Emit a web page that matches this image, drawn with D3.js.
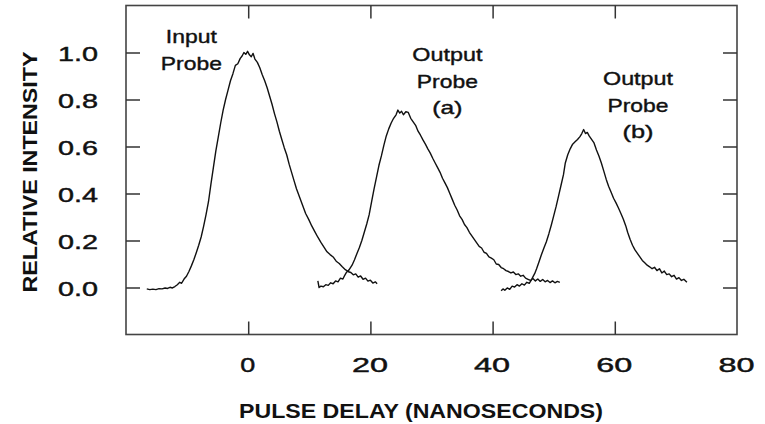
<!DOCTYPE html>
<html>
<head>
<meta charset="utf-8">
<script src="https://cdn.jsdelivr.net/npm/d3@7"></script>
<style>
  html, body { margin: 0; padding: 0; background: #fff; }
  svg { display: block; font-family: "Liberation Sans", Arial, Helvetica, sans-serif; }
</style>
</head>
<body>
<svg id="chart" width="765" height="424"></svg>
<script>
// ---- data (pulse delay in ns, relative intensity) ----
const xTickValues = [0, 20, 40, 60, 80];
const yTickValues = [0.0, 0.2, 0.4, 0.6, 0.8, 1.0];
const xLabel = "PULSE DELAY (NANOSECONDS)";
const yLabel = "RELATIVE INTENSITY";

const inputProbe = [
  [-16.6,-0.006],[-16.1,-0.009],[-15.6,-0.007],[-15.1,-0.009],[-14.6,-0.005],[-14.1,-0.006],[-13.6,-0.002],
  [-13.2,-0.004],[-12.8,0.001],[-12.4,-0.002],[-12.0,0.004],[-11.6,0.012],[-11.2,0.022],[-10.9,0.018],
  [-10.5,0.036],[-10.1,0.048],[-9.7,0.068],[-9.3,0.092],[-8.9,0.118],[-8.5,0.148],[-8.1,0.18],[-7.7,0.215],
  [-7.3,0.26],[-6.9,0.31],[-6.5,0.365],[-6.1,0.44],[-5.7,0.51],[-5.3,0.58],[-4.9,0.64],[-4.5,0.7],
  [-4.1,0.755],[-3.7,0.8],[-3.3,0.84],[-2.9,0.88],[-2.5,0.91],[-2.1,0.945],[-1.7,0.952],[-1.3,0.975],
  [-1.0,0.985],[-0.7,1.0],[-0.4,0.992],[-0.1,1.005],[0.2,0.99],[0.5,0.982],[0.8,0.996],[1.1,0.972],
  [1.5,0.958],[1.9,0.935],[2.3,0.905],[2.7,0.88],[3.1,0.85],[3.5,0.815],[3.9,0.78],[4.3,0.74],[4.7,0.705],
  [5.1,0.665],[5.5,0.63],[5.9,0.595],[6.3,0.565],[6.7,0.525],[7.1,0.49],[7.5,0.455],[7.9,0.42],[8.4,0.385],
  [8.9,0.35],[9.4,0.315],[9.9,0.29],[10.4,0.262],[10.9,0.238],[11.4,0.214],[11.9,0.192],[12.4,0.172],
  [12.9,0.152],[13.4,0.14],[13.9,0.13],[14.4,0.112],[14.9,0.102],[15.4,0.088],[15.9,0.076],[16.4,0.067],
  [16.8,0.064],[17.2,0.054],[17.6,0.058],[18.0,0.044],[18.4,0.049],[18.8,0.035],[19.2,0.04],[19.6,0.027],
  [20.0,0.031],[20.4,0.019],[20.8,0.024],[21.1,0.016]
];

const outputProbeA = [
  [11.4,0.028],[11.6,0.0],[11.9,0.006],[12.3,0.003],[12.7,0.012],[13.1,0.009],[13.5,0.02],[13.9,0.016],
  [14.3,0.028],[14.7,0.024],[15.1,0.04],[15.5,0.036],[15.8,0.052],[16.1,0.065],[16.5,0.075],[17.0,0.095],
  [17.4,0.118],[17.8,0.145],[18.2,0.17],[18.6,0.2],[19.0,0.235],[19.4,0.27],[19.8,0.31],[20.2,0.365],
  [20.6,0.42],[21.0,0.47],[21.4,0.52],[21.8,0.56],[22.2,0.605],[22.6,0.645],[23.0,0.675],[23.4,0.7],
  [23.8,0.72],[24.2,0.735],[24.5,0.755],[24.8,0.742],[25.1,0.75],[25.4,0.735],[25.8,0.748],[26.2,0.745],
  [26.6,0.72],[27.0,0.705],[27.4,0.69],[27.8,0.665],[28.2,0.648],[28.6,0.628],[29.0,0.61],[29.4,0.59],
  [29.8,0.572],[30.2,0.55],[30.6,0.53],[31.0,0.51],[31.4,0.49],[31.8,0.465],[32.2,0.445],[32.6,0.425],
  [33.0,0.4],[33.4,0.375],[33.8,0.35],[34.2,0.33],[34.6,0.305],[35.0,0.29],[35.4,0.268],[35.8,0.255],
  [36.2,0.235],[36.6,0.22],[37.0,0.205],[37.4,0.19],[37.8,0.175],[38.2,0.168],[38.6,0.15],[39.0,0.145],
  [39.4,0.13],[39.8,0.125],[40.2,0.118],[40.6,0.1],[41.0,0.098],[41.4,0.085],[41.8,0.08],[42.2,0.072],
  [42.6,0.068],[43.0,0.062],[43.4,0.066],[43.8,0.055],[44.2,0.058],[44.6,0.048],[45.0,0.052],[45.4,0.04],
  [45.8,0.035],[46.2,0.03],[46.6,0.038],[47.0,0.028],[47.4,0.036],[47.8,0.026],[48.2,0.034],[48.6,0.024],
  [49.0,0.03],[49.4,0.021],[49.8,0.028],[50.2,0.02],[50.6,0.026],[51.0,0.022]
];

const outputProbeB = [
  [41.4,-0.014],[41.7,-0.006],[42.0,-0.012],[42.4,-0.002],[42.8,-0.008],[43.2,0.006],[43.6,0.002],
  [44.0,0.012],[44.4,0.006],[44.8,0.016],[45.2,0.01],[45.6,0.022],[46.0,0.018],[46.3,0.03],[46.6,0.045],
  [46.9,0.06],[47.2,0.08],[47.6,0.11],[48.0,0.14],[48.4,0.168],[48.8,0.195],[49.2,0.228],[49.6,0.265],
  [50.0,0.305],[50.4,0.345],[50.8,0.39],[51.2,0.435],[51.6,0.48],[51.9,0.53],[52.3,0.565],[52.7,0.59],
  [53.1,0.61],[53.5,0.62],[53.9,0.63],[54.3,0.642],[54.6,0.655],[54.9,0.672],[55.2,0.655],[55.5,0.66],
  [55.8,0.645],[56.2,0.63],[56.6,0.615],[57.0,0.585],[57.4,0.56],[57.8,0.53],[58.2,0.495],[58.6,0.46],
  [59.0,0.43],[59.4,0.405],[59.8,0.38],[60.2,0.36],[60.6,0.338],[61.0,0.315],[61.4,0.29],[61.8,0.262],
  [62.1,0.235],[62.5,0.205],[62.9,0.18],[63.3,0.16],[63.7,0.145],[64.1,0.13],[64.5,0.115],[64.9,0.105],
  [65.3,0.095],[65.7,0.088],[66.1,0.08],[66.5,0.086],[66.9,0.072],[67.3,0.08],[67.7,0.062],[68.1,0.07],
  [68.5,0.055],[68.9,0.058],[69.3,0.046],[69.7,0.052],[70.1,0.036],[70.5,0.042],[70.9,0.03],[71.3,0.035],
  [71.8,0.022]
];

const series = [inputProbe, outputProbeA, outputProbeB];

// annotation labels: lines of text anchored at (x data, y data)
const annotations = [
  { lines: ["Input", "Probe"], x: -9.3, y: 1.04 },
  { lines: ["Output", "Probe", "(a)"], x: 32.6, y: 0.963 },
  { lines: ["Output", "Probe", "(b)"], x: 63.8, y: 0.86 }
];

// ---- drawing ----
const svg = d3.select("#chart");
const x = d3.scaleLinear().domain([-20, 80]).range([126, 737]);
const y = d3.scaleLinear().domain([-0.2, 1.2]).range([334.5, 5.5]);

const ink = "#111";

// frame
svg.append("rect")
  .attr("x", x(-20)).attr("y", y(1.2))
  .attr("width", x(80) - x(-20)).attr("height", y(-0.2) - y(1.2))
  .attr("fill", "none").attr("stroke", "#444").attr("stroke-width", 1.6);

const tickStyle = g => {
  g.select(".domain").remove();
  g.selectAll(".tick line").attr("stroke", "#333").attr("stroke-width", 1.5);
};

// inward ticks on all four sides
svg.append("g").attr("transform", `translate(0,${y(-0.2)})`)
  .call(d3.axisBottom(x).tickValues([0, 20, 40, 60]).tickSize(-13).tickFormat(""))
  .call(tickStyle);
svg.append("g").attr("transform", `translate(0,${y(1.2)})`)
  .call(d3.axisTop(x).tickValues([0, 20, 40, 60]).tickSize(-13).tickFormat(""))
  .call(tickStyle);
svg.append("g").attr("transform", `translate(${x(-20)},0)`)
  .call(d3.axisLeft(y).tickValues(yTickValues).tickSize(-14).tickFormat(""))
  .call(tickStyle);
svg.append("g").attr("transform", `translate(${x(80)},0)`)
  .call(d3.axisRight(y).tickValues(yTickValues).tickSize(-14).tickFormat(""))
  .call(tickStyle);

// tick labels
const xl = svg.append("g").attr("transform", `translate(0,${y(-0.2)})`)
  .call(d3.axisBottom(x).tickValues(xTickValues).tickSize(0).tickPadding(23).tickFormat(d3.format("d")));
xl.select(".domain").remove();
xl.selectAll("text")
  .attr("font-size", 21).attr("fill", ink).attr("font-family", "Liberation Sans, Arial, sans-serif")
  .attr("stroke", ink).attr("stroke-width", 0.45)
  .attr("dx", -1)
  .each(function(d) {
    const t = d3.select(this);
    if (String(d).length > 1) t.attr("textLength", 36).attr("lengthAdjust", "spacingAndGlyphs");
    else t.attr("textLength", 15).attr("lengthAdjust", "spacingAndGlyphs");
  });

const yl = svg.append("g").attr("transform", `translate(${x(-20)},0)`)
  .call(d3.axisLeft(y).tickValues(yTickValues).tickSize(0).tickPadding(28).tickFormat(d3.format(".1f")));
yl.select(".domain").remove();
yl.selectAll("text")
  .attr("font-size", 21).attr("fill", ink).attr("font-family", "Liberation Sans, Arial, sans-serif")
  .attr("stroke", ink).attr("stroke-width", 0.45)
  .attr("dy", "0.36em")
  .attr("textLength", 40).attr("lengthAdjust", "spacingAndGlyphs");

// axis titles
svg.append("text")
  .attr("x", 421).attr("y", 418)
  .attr("text-anchor", "middle").attr("font-weight", "bold").attr("font-size", 20)
  .attr("fill", ink)
  .attr("textLength", 364).attr("lengthAdjust", "spacingAndGlyphs")
  .text(xLabel);

svg.append("text")
  .attr("transform", "translate(36.5,172) rotate(-90)")
  .attr("text-anchor", "middle").attr("font-weight", "bold").attr("font-size", 20)
  .attr("fill", ink)
  .attr("textLength", 241).attr("lengthAdjust", "spacingAndGlyphs")
  .text(yLabel);

// curves
const line = d3.line().x(d => x(d[0])).y(d => y(d[1]));
svg.append("g").selectAll("path").data(series).join("path")
  .attr("d", line)
  .attr("fill", "none").attr("stroke", "#111").attr("stroke-width", 1.4)
  .attr("stroke-linejoin", "round");

// annotations
const widths = { "Input": 51, "Probe": 61, "Output": 70, "(a)": 30, "(b)": 31 };
annotations.forEach(a => {
  const g = svg.append("g");
  a.lines.forEach((s, i) => {
    g.append("text")
      .attr("x", x(a.x)).attr("y", y(a.y) + i * 26.5)
      .attr("text-anchor", "middle").attr("font-size", 19).attr("fill", ink)
      .attr("stroke", ink).attr("stroke-width", 0.4)
      .attr("textLength", widths[s]).attr("lengthAdjust", "spacingAndGlyphs")
      .text(s);
  });
});
</script>
</body>
</html>
